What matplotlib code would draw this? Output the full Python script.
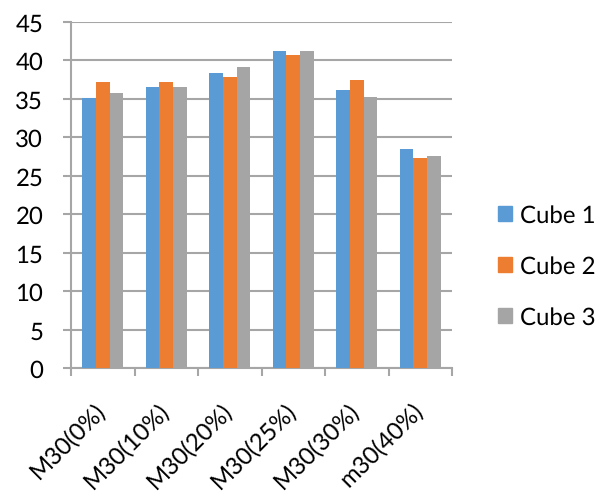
import numpy as np
import matplotlib.pyplot as plt
from matplotlib.patches import Patch

categories = ["M30(0%)", "M30(10%)", "M30(20%)", "M30(25%)", "M30(30%)", "m30(40%)"]
cube1 = [35.1, 36.6, 38.4, 41.2, 36.1, 28.5]
cube2 = [37.2, 37.2, 37.8, 40.7, 37.5, 27.3]
cube3 = [35.8, 36.6, 39.2, 41.2, 35.2, 27.6]
series_names = ["Cube 1", "Cube 2", "Cube 3"]
colors = ["#5B9BD5", "#ED7D31", "#A5A5A5"]

plt.rcParams["font.family"] = ["Lato", "DejaVu Sans"]
# rotated labels look skewed with the default autohinter
plt.rcParams["text.hinting"] = "no_hinting"
plt.rcParams["text.hinting_factor"] = 1
txt = "#000000"
grid_c = "#A6A6A6"

fig = plt.figure(figsize=(6.09, 5.02), dpi=100)
ax = fig.add_axes([71 / 609, 1 - 369 / 502, (452 - 71) / 609, (369 - 23) / 502])

x = np.arange(len(categories))
w = 0.216
for i, (vals, c) in enumerate(zip([cube1, cube2, cube3], colors)):
    ax.bar(x + (i - 1) * w, vals, width=w, color=c, zorder=3)

ax.set_xlim(-0.5, len(categories) - 0.5)
ax.set_ylim(0, 45)
ax.set_yticks(np.arange(0, 46, 5))
ax.yaxis.grid(True, color=grid_c, linewidth=1.5, zorder=0)

# category boundaries as tick marks, labels on centres
ax.set_xticks(np.arange(-0.5, len(categories), 1.0))
ax.set_xticklabels([])
for xi, name in zip(x, categories):
    ax.annotate(name, xy=(xi, 0), xycoords=("data", "axes fraction"),
                xytext=(-6, -22), textcoords="offset points",
                rotation=45, ha="right", va="top", rotation_mode="anchor",
                fontsize=17, color=txt, annotation_clip=False)
ax.tick_params(axis="x", length=6, width=1.5, color=grid_c)
ax.tick_params(axis="y", length=6, width=1.5, color=grid_c, labelsize=17,
               labelcolor=txt, pad=14)

for s in ["top", "right"]:
    ax.spines[s].set_visible(False)
for s in ["left", "bottom"]:
    ax.spines[s].set_color(grid_c)
    ax.spines[s].set_linewidth(1.5)

handles = [Patch(color=c) for c in colors]
fig.legend(handles, series_names, loc="center left", bbox_to_anchor=(0.818, 0.468),
           frameon=False, fontsize=17, handlelength=0.57, handleheight=0.57,
           handletextpad=0.35, labelspacing=1.23, labelcolor=txt,
           borderpad=0, borderaxespad=0)

fig.savefig("out.png", dpi=100)
